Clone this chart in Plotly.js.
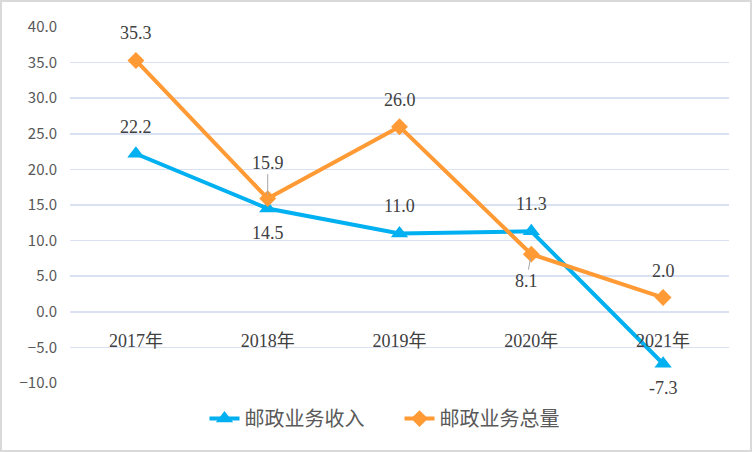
<!DOCTYPE html>
<html><head><meta charset="utf-8">
<script src="https://cdn.plot.ly/plotly-3.0.1.min.js"></script>
<style>
html,body{margin:0;padding:0;background:#fff;}
#wrap{width:748px;height:448px;border:2px solid #d9d9d9;}
#chart{width:748px;height:448px;}
</style></head>
<body><div id="wrap"><div id="chart"></div></div>
<script>
const categories = ['2017年','2018年','2019年','2020年','2021年'];
const incomeName = '邮政业务收入';
const volumeName = '邮政业务总量';
const income = [22.2, 14.5, 11.0, 11.3, -7.3];
const volume = [35.3, 15.9, 26.0, 8.1, 2.0];
const incomeLabelPos = ['above','below','above','above','below'];
const volumeLabelPos = ['above','above','above','below','above'];
const yTicks = [-10, -5, 0, 5, 10, 15, 20, 25, 30, 35, 40];

const blue = '#00B0F0', orange = '#FF9A35';
const serif = 'Liberation Serif, DejaVu Serif, Noto Sans CJK SC, serif';
const labelFont = {family:serif, size:18, color:'#404040'};

const traces = [
  {x:categories, y:income, name:incomeName, type:'scatter', mode:'lines+markers',
   line:{color:blue, width:4}, marker:{symbol:'triangle-up', size:15, color:blue}},
  {x:categories, y:volume, name:volumeName, type:'scatter', mode:'lines+markers',
   line:{color:orange, width:4}, marker:{symbol:'diamond', size:13, color:orange}}
];

const annotations = [];
function addLabels(vals, pos){
  vals.forEach((v,i)=>{
    const up = pos[i]==='above';
    annotations.push({x:categories[i], y:v, xref:'x', yref:'y',
      text:v.toFixed(1),
      font:labelFont, showarrow:false, yshift: up?27:-24});
  });
}
addLabels(income, incomeLabelPos);
addLabels(volume, volumeLabelPos);
annotations.forEach(a=>{
  if(a.x==='2018年' && a.y===volume[1]){
    Object.assign(a,{showarrow:true, arrowhead:0, arrowwidth:1, arrowcolor:'#a6a6a6', ax:0, ay:-36, yshift:0, standoff:4});
  }
  if(a.x==='2020年' && a.y===volume[3]){
    Object.assign(a,{showarrow:true, arrowhead:0, arrowwidth:1, arrowcolor:'#a6a6a6', ax:-5, ay:27, yshift:0, standoff:4});
  }
});

const layout = {
  width:748, height:448,
  margin:{l:68, r:21, t:25, b:64},
  paper_bgcolor:'#fff', plot_bgcolor:'#fff',
  showlegend:true,
  legend:{orientation:'h', x:0.5, xanchor:'center', y:-0.1, yanchor:'middle',
    entrywidth:150, entrywidthmode:'pixels',
    font:{family:'Noto Sans CJK SC, sans-serif', size:20, color:'#595959'}},
  xaxis:{type:'category', range:[-0.5,4.5], anchor:'free', position:0.2, showline:false, showgrid:false,
    zeroline:false, ticks:'', ticklabelstandoff:16,
    tickfont:{family:serif, size:18, color:'#404040'}},
  yaxis:{range:[-10,40], tickvals:yTicks, tickformat:'.1f', showgrid:true,
    gridcolor:'#D9E1F2', gridwidth:1.5, zeroline:false, showline:false, ticks:'',
    ticklabelstandoff:12,
    tickfont:{family:'Noto Sans CJK SC, sans-serif', size:15, color:'#595959'}},
  annotations:annotations
};
Plotly.newPlot('chart', traces, layout, {displayModeBar:false, staticPlot:true});
</script></body></html>
